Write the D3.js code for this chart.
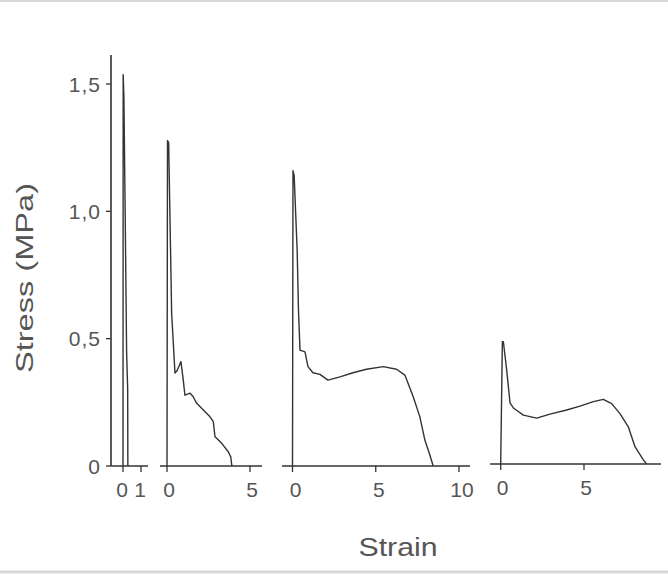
<!DOCTYPE html>
<html>
<head>
<meta charset="utf-8">
<script src="https://cdn.jsdelivr.net/npm/d3@7"></script>
<style>
  html, body { margin: 0; padding: 0; background: #fff; }
  svg { display: block; }
  text { font-family: "Liberation Sans", Arial, Helvetica, sans-serif; fill: #555; }
</style>
</head>
<body>
<svg id="chart" width="668" height="574"></svg>
<script>
// ---- data (strain, stress MPa) ----
const yTicks = [0, 0.5, 1.0, 1.5];
const yTickLabels = ["0", "0,5", "1,0", "1,5"];

const panel1Ticks = [0, 1];
const panel2Ticks = [0, 5];
const panel3Ticks = [0, 5, 10];
const panel4Ticks = [0, 5];

const panel1Curve = [[0,0],[0.01,1.537],[0.05,1.45],[0.12,1.0],[0.2,0.45],[0.26,0.3],[0.27,0]];
const panel2Curve = [[0,0],[0.03,1.278],[0.1,1.27],[0.28,0.6],[0.48,0.365],[0.62,0.376],[0.84,0.41],
  [0.98,0.337],[1.08,0.278],[1.39,0.286],[1.58,0.272],[1.79,0.246],[2.19,0.22],[2.59,0.193],
  [2.79,0.174],[2.89,0.115],[3.3,0.089],[3.69,0.056],[3.84,0.036],[3.9,0.004],[3.92,0]];
const panel3Curve = [[0,0],[0.03,1.16],[0.1,1.14],[0.28,0.847],[0.36,0.61],[0.45,0.455],[0.75,0.448],
  [0.93,0.39],[1.23,0.366],[1.65,0.36],[2.13,0.337],[2.85,0.35],[3.63,0.366],[4.44,0.38],
  [5.45,0.39],[6.25,0.38],[6.75,0.357],[7.25,0.272],[7.65,0.193],[7.95,0.102],[8.25,0.043],[8.45,0]];
const panel4Curve = [[0,0],[0.1,0.48],[0.16,0.48],[0.36,0.368],[0.56,0.24],[0.76,0.22],[1.36,0.192],
  [2.16,0.18],[2.96,0.196],[3.96,0.212],[4.76,0.227],[5.56,0.245],[6.16,0.254],[6.66,0.237],
  [7.16,0.198],[7.66,0.146],[8.06,0.068],[8.56,0.016],[8.76,0]];

const yLabel = "Stress (MPa)";
const xLabel = "Strain";

// ---- layout ----
const svg = d3.select("#chart");
const ink = "#333";

// frame lines of the scan
svg.append("line").attr("x1",0).attr("x2",668).attr("y1",1).attr("y2",1)
  .attr("stroke","#d8d8d8").attr("stroke-width",2);
svg.append("line").attr("x1",0).attr("x2",668).attr("y1",572).attr("y2",572)
  .attr("stroke","#d8d8d8").attr("stroke-width",3);

const y = d3.scaleLinear().domain([0, 1.5]).range([466, 84]);
const y4 = d3.scaleLinear().domain([0, 1.5]).range([464, 82]);

// main y axis
const yAxisG = svg.append("g").attr("transform","translate(111,0)");
yAxisG.append("line").attr("x1",0).attr("x2",0).attr("y1",55).attr("y2",y(0))
  .attr("stroke",ink).attr("stroke-width",1.6);
yAxisG.selectAll("line.tick").data(yTicks).join("line").attr("class","tick")
  .attr("x1",-5).attr("x2",0).attr("y1",d=>y(d)).attr("y2",d=>y(d))
  .attr("stroke",ink).attr("stroke-width",1.3);
yAxisG.selectAll("text").data(yTicks).join("text")
  .attr("x",-10).attr("y",d=>y(d)).attr("dy","0.36em")
  .attr("text-anchor","end").attr("font-size",21)
  .attr("letter-spacing",1)
  .text((d,i)=>yTickLabels[i]);

svg.append("text")
  .attr("transform","translate(33,278) rotate(-90)")
  .attr("text-anchor","middle").attr("font-size",24)
  .attr("textLength",190).attr("lengthAdjust","spacingAndGlyphs")
  .text(yLabel);

svg.append("text")
  .attr("x",398).attr("y",556)
  .attr("text-anchor","middle").attr("font-size",25)
  .attr("textLength",79).attr("lengthAdjust","spacingAndGlyphs")
  .text(xLabel);

const panels = [
  {ticks: panel1Ticks, curve: panel1Curve, domain:[0,1], range:[123,141], axis:[111,148], ys:y, labelDx:-1},
  {ticks: panel2Ticks, curve: panel2Curve, domain:[0,5], range:[167,250], axis:[160,262], ys:y, labelDx:2},
  {ticks: panel3Ticks, curve: panel3Curve, domain:[0,10], range:[292.5,459], axis:[282,470], ys:y, labelDx:3},
  {ticks: panel4Ticks, curve: panel4Curve, domain:[0,5], range:[500.7,584], axis:[490,661], ys:y4, labelDx:2}
];

panels.forEach(p => {
  const x = d3.scaleLinear().domain(p.domain).range(p.range);
  const base = p.ys(0);
  const g = svg.append("g");
  g.append("line").attr("x1",p.axis[0]).attr("x2",p.axis[1]).attr("y1",base).attr("y2",base)
    .attr("stroke",ink).attr("stroke-width",1.5);
  g.selectAll("line.tick").data(p.ticks).join("line").attr("class","tick")
    .attr("x1",d=>x(d)).attr("x2",d=>x(d)).attr("y1",base).attr("y2",base+6)
    .attr("stroke",ink).attr("stroke-width",1.3);
  g.selectAll("text").data(p.ticks).join("text")
    .attr("x",d=>x(d)+p.labelDx).attr("y",base+31)
    .attr("text-anchor","middle").attr("font-size",21)
    .text(d=>String(d));
  const line = d3.line().x(d=>x(d[0])).y(d=>p.ys(d[1]));
  g.append("path").datum(p.curve).attr("d",line)
    .attr("fill","none").attr("stroke",ink).attr("stroke-width",1.4)
    .attr("stroke-linejoin","round");
});
</script>
</body>
</html>
